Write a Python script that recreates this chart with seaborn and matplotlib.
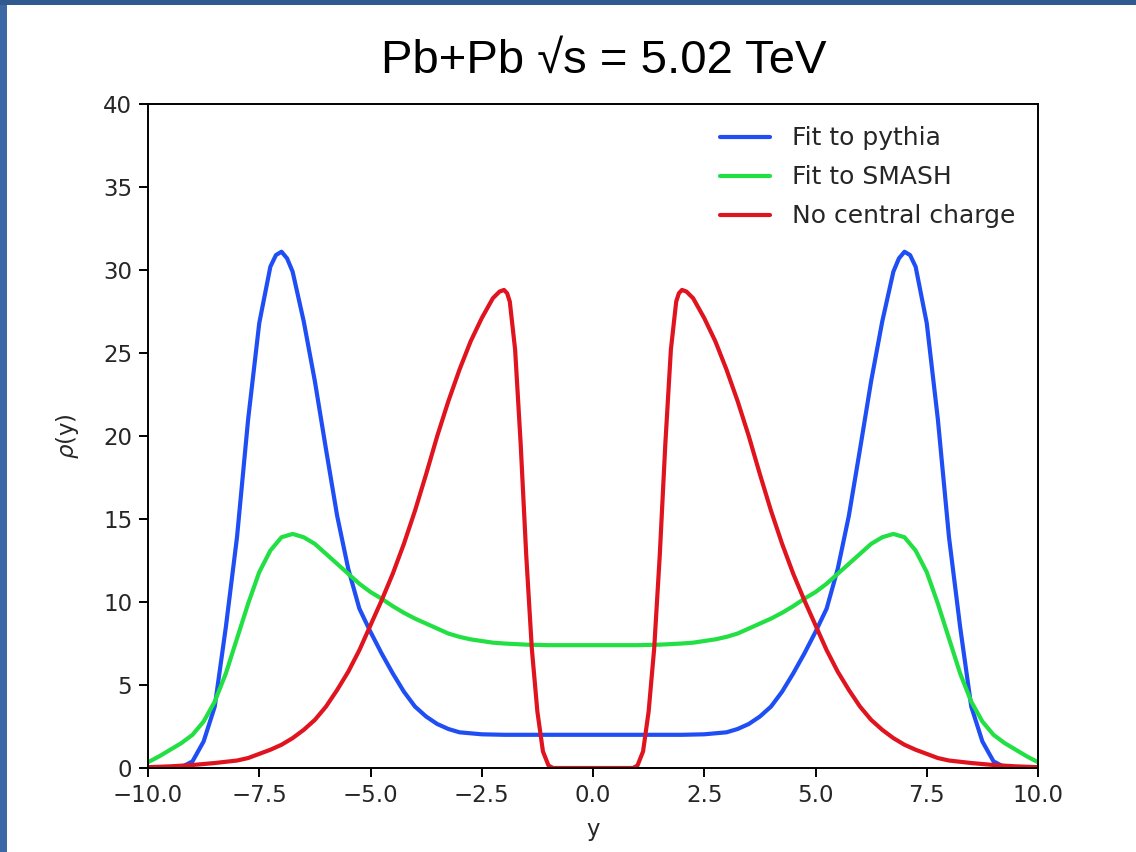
import numpy as np
import pandas as pd
import matplotlib
matplotlib.use("Agg")
import matplotlib.pyplot as plt
import seaborn as sns
from matplotlib.patches import Rectangle

# ---------------- data ----------------
pythia_y = [-10.0, -9.5, -9.25, -9.0, -8.75, -8.5, -8.25, -8.0, -7.75, -7.5, -7.25, -7.125, -7.0,
            -6.875, -6.75, -6.5, -6.25, -6.0, -5.75, -5.5, -5.25, -5.0, -4.75, -4.5, -4.25, -4.0,
            -3.75, -3.5, -3.25, -3.0, -2.5, -2.0, -1.0, 0.0,
            1.0, 2.0, 2.5, 3.0, 3.25, 3.5, 3.75, 4.0, 4.25, 4.5, 4.75, 5.0, 5.25, 5.5, 5.75, 6.0,
            6.25, 6.5, 6.75, 6.875, 7.0, 7.125, 7.25, 7.5, 7.75, 8.0, 8.25, 8.5, 8.75, 9.0, 9.25,
            9.5, 10.0]
pythia_rho = [0.0, 0.0, 0.05, 0.4, 1.6, 3.7, 8.5, 13.9, 21.0, 26.8, 30.2, 30.9, 31.1,
              30.7, 29.9, 26.9, 23.3, 19.2, 15.2, 12.0, 9.6, 8.2, 6.9, 5.7, 4.6, 3.7,
              3.1, 2.65, 2.35, 2.15, 2.03, 2.0, 2.0, 2.0,
              2.0, 2.0, 2.03, 2.15, 2.35, 2.65, 3.1, 3.7, 4.6, 5.7, 6.9, 8.2, 9.6, 12.0, 15.2, 19.2,
              23.3, 26.9, 29.9, 30.7, 31.1, 30.9, 30.2, 26.8, 21.0, 13.9, 8.5, 3.7, 1.6, 0.4, 0.05,
              0.0, 0.0]

smash_y = [-10.0, -9.75, -9.5, -9.25, -9.0, -8.75, -8.5, -8.25, -8.0, -7.75, -7.5, -7.25, -7.0,
           -6.75, -6.5, -6.25, -6.0, -5.75, -5.5, -5.25, -5.0, -4.75, -4.5, -4.25, -4.0, -3.75,
           -3.5, -3.25, -3.0, -2.75, -2.5, -2.25, -2.0, -1.5, -1.0, 0.0,
           1.0, 1.5, 2.0, 2.25, 2.5, 2.75, 3.0, 3.25, 3.5, 3.75, 4.0, 4.25, 4.5, 4.75, 5.0, 5.25,
           5.5, 5.75, 6.0, 6.25, 6.5, 6.75, 7.0, 7.25, 7.5, 7.75, 8.0, 8.25, 8.5, 8.75, 9.0, 9.25,
           9.5, 9.75, 10.0]
smash_rho = [0.35, 0.7, 1.1, 1.5, 2.0, 2.8, 4.0, 5.7, 7.8, 9.9, 11.8, 13.1, 13.9,
             14.1, 13.9, 13.5, 12.9, 12.3, 11.7, 11.1, 10.6, 10.2, 9.75, 9.35, 9.0, 8.7,
             8.4, 8.1, 7.9, 7.75, 7.65, 7.55, 7.5, 7.43, 7.4, 7.4,
             7.4, 7.43, 7.5, 7.55, 7.65, 7.75, 7.9, 8.1, 8.4, 8.7, 9.0, 9.35, 9.75, 10.2, 10.6, 11.1,
             11.7, 12.3, 12.9, 13.5, 13.9, 14.1, 13.9, 13.1, 11.8, 9.9, 7.8, 5.7, 4.0, 2.8, 2.0, 1.5,
             1.1, 0.7, 0.35]

nocc_y = [-10.0, -9.5, -9.0, -8.5, -8.0, -7.75, -7.5, -7.25, -7.0, -6.75, -6.5, -6.25, -6.0,
          -5.75, -5.5, -5.25, -5.0, -4.75, -4.5, -4.25, -4.0, -3.75, -3.5, -3.25, -3.0, -2.75,
          -2.5, -2.25, -2.1, -2.0, -1.93, -1.87, -1.75, -1.625, -1.5, -1.375, -1.25, -1.125,
          -1.0, -0.9, 0.0,
          0.9, 1.0, 1.125, 1.25, 1.375, 1.5, 1.625, 1.75, 1.87, 1.93, 2.0, 2.1, 2.25, 2.5,
          2.75, 3.0, 3.25, 3.5, 3.75, 4.0, 4.25, 4.5, 4.75, 5.0, 5.25, 5.5, 5.75, 6.0, 6.25,
          6.5, 6.75, 7.0, 7.25, 7.5, 7.75, 8.0, 8.5, 9.0, 9.5, 10.0]
nocc_rho = [0.05, 0.1, 0.18, 0.3, 0.45, 0.6, 0.85, 1.1, 1.4, 1.8, 2.3, 2.9, 3.7,
            4.7, 5.8, 7.1, 8.6, 10.1, 11.7, 13.5, 15.5, 17.7, 20.0, 22.1, 24.0, 25.7,
            27.1, 28.3, 28.7, 28.8, 28.6, 28.1, 25.2, 19.5, 12.8, 7.2, 3.4, 1.0,
            0.15, 0.0, 0.0,
            0.0, 0.15, 1.0, 3.4, 7.2, 12.8, 19.5, 25.2, 28.1, 28.6, 28.8, 28.7, 28.3, 27.1,
            25.7, 24.0, 22.1, 20.0, 17.7, 15.5, 13.5, 11.7, 10.1, 8.6, 7.1, 5.8, 4.7, 3.7, 2.9,
            2.3, 1.8, 1.4, 1.1, 0.85, 0.6, 0.45, 0.3, 0.18, 0.1, 0.05]

series_labels = ["Fit to pythia", "Fit to SMASH", "No central charge"]
series_colors = ["#1f4ef5", "#22e044", "#e0141e"]
x_ticks = [-10.0, -7.5, -5.0, -2.5, 0.0, 2.5, 5.0, 7.5, 10.0]
y_ticks = [0, 5, 10, 15, 20, 25, 30, 35, 40]
title_text = "Pb+Pb \u221as = 5.02 TeV"
x_label = "y"
y_label = r"$\rho$(y)"

# ---------------- build table ----------------
frames = []
for lab, xs, ys in zip(series_labels, [pythia_y, smash_y, nocc_y],
                       [pythia_rho, smash_rho, nocc_rho]):
    frames.append(pd.DataFrame({"y": xs, "rho": ys, "series": lab}))
df = pd.concat(frames, ignore_index=True)

# ---------------- plot ----------------
sns.set_style("ticks")
plt.rcParams["font.family"] = ["DejaVu Sans"]

fig = plt.figure(figsize=(11.36, 8.52), dpi=100)
fig.patch.set_facecolor("white")

# slide border (left and top bands)
fig.patches.append(Rectangle((0, 0), 7 / 1136, 1, transform=fig.transFigure,
                             facecolor="#3c68a5", edgecolor="none", zorder=0))
fig.patches.append(Rectangle((0, 1 - 5 / 852), 1, 5 / 852, transform=fig.transFigure,
                             facecolor="#30598f", edgecolor="none", zorder=0))

ax = fig.add_axes([148 / 1136, 84 / 852, 890 / 1136, 664 / 852])
sns.lineplot(data=df, x="y", y="rho", hue="series", hue_order=series_labels,
             palette=dict(zip(series_labels, series_colors)), estimator=None,
             sort=False, linewidth=3.0, ax=ax, legend=False)
for ln in ax.get_lines():
    ln.set_solid_joinstyle("round")

ax.set_xlim(-10, 10)
ax.set_ylim(0, 40)
ax.set_xticks(x_ticks)
ax.set_yticks(y_ticks)
ax.tick_params(axis="both", labelsize=16.5, length=6.3, width=1.4, pad=5,
               color="black", labelcolor="#262626")
for sp in ax.spines.values():
    sp.set_visible(True)
    sp.set_linewidth(1.4)
    sp.set_color("black")

ax.set_xlabel(x_label, fontsize=16.5, color="#262626", labelpad=8)
ax.set_ylabel(y_label, fontsize=16.5, color="#262626", labelpad=16)

handles = ax.get_lines()[:3]
ax.legend(handles, series_labels, loc="upper right", frameon=False, fontsize=18,
          handlelength=2.0, borderaxespad=0.5, labelspacing=0.6, handletextpad=0.9,
          labelcolor="#262626")

fig.text(604 / 1136, 1 - 61 / 852, title_text, ha="center", va="center",
         fontsize=34, family=["Liberation Sans", "DejaVu Sans"], color="black")

fig.savefig("out.png", dpi=100)
